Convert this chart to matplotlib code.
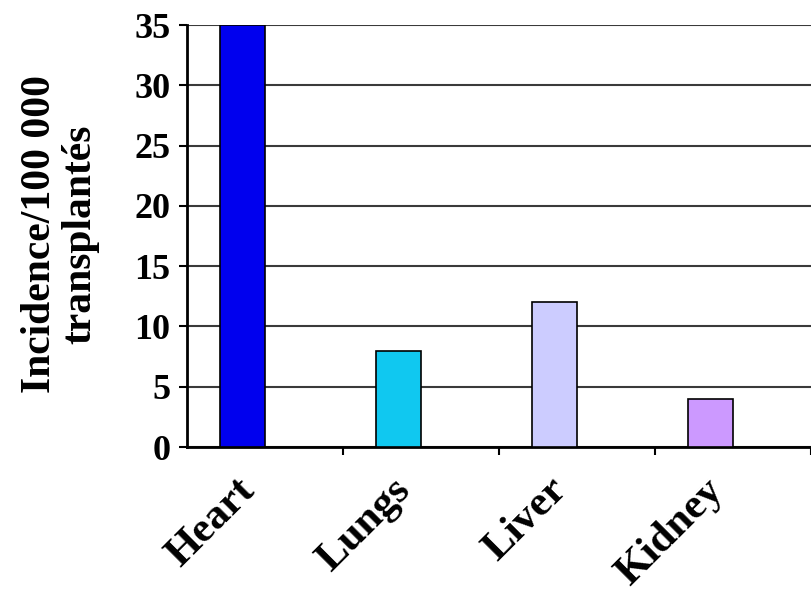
import matplotlib
matplotlib.use("Agg")
import matplotlib.pyplot as plt
import matplotlib.transforms as mtransforms
import numpy as np

categories = ["Heart", "Lungs", "Liver", "Kidney"]
values = [35, 8, 12, 4]
colors = ["#0000EE", "#10C8F0", "#CCCCFF", "#CC99FF"]
yticks = [0, 5, 10, 15, 20, 25, 30, 35]
ylabel = "Incidence/100 000\ntransplantés"

plt.rcParams["font.family"] = ["Liberation Serif", "DejaVu Serif"]
plt.rcParams["font.weight"] = "bold"

fig = plt.figure(figsize=(8.11, 5.95), dpi=100)
ax = fig.add_axes([187/811, 1-447/595, 1-187/811, (447-25)/595])

x = np.arange(len(categories))
bw = 0.29
ax.bar(x - bw, values, width=bw, align="edge", color=colors,
       edgecolor="black", linewidth=1.2, zorder=3)

ax.set_xlim(-0.5, len(categories) - 0.5)
ax.set_ylim(0, 35)
ax.set_yticks(yticks)
ax.set_yticklabels([str(t) for t in yticks], fontsize=26, fontweight="bold")
ax.yaxis.grid(True, color="#3a3a3a", linewidth=1.5, zorder=0)
ax.set_axisbelow(True)

ax.set_xticks(x)
ax.set_xticklabels(categories, fontsize=31, fontweight="bold", rotation=45,
                   ha="right", va="center", rotation_mode="anchor")
ax.set_xticks(np.arange(len(categories)) + 0.5, minor=True)
ax.tick_params(axis="x", which="major", length=0, pad=27)
ax.tick_params(axis="x", which="minor", length=6, width=1.5, direction="out")
ax.tick_params(axis="y", length=6, width=1.5, pad=6)

offset = mtransforms.ScaledTranslation(-16/100, 0, fig.dpi_scale_trans)
for lab in ax.get_xticklabels():
    lab.set_transform(lab.get_transform() + offset)

for s in ["top", "right"]:
    ax.spines[s].set_visible(False)
for s in ["left", "bottom"]:
    ax.spines[s].set_linewidth(2)
    ax.spines[s].set_color("black")

fig.text(60/811, 1 - 234/595, ylabel, rotation=90, ha="center", va="center",
         fontsize=30, fontweight="bold", linespacing=1.1, multialignment="center")

fig.savefig("out.png", dpi=100)
